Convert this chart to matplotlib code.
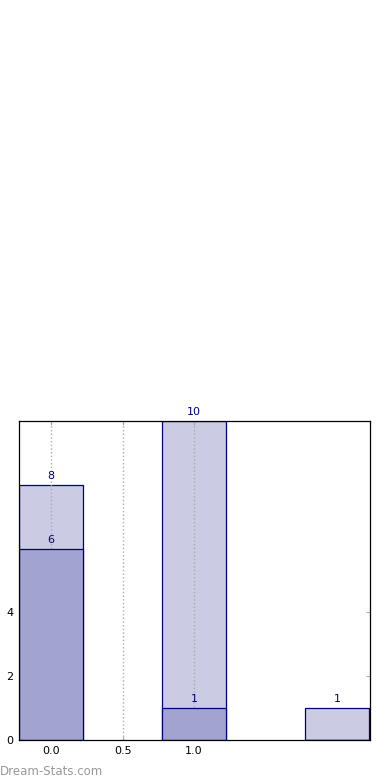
import matplotlib.pyplot as plt
import numpy as np

# positions and counts
xpos = [0, 1, 2]
total = [8, 10, 1]
part = [6, 1, 0]
yticks = [0, 2, 4]
xticks = [0.0, 0.5, 1.0]

light = '#cbcbe4'
dark = '#a3a3d1'
edge = '#000080'

fig = plt.figure(figsize=(3.9, 7.8), dpi=100)
ax = fig.add_axes([0.0487, 0.0513, 0.9, 0.409])

ax.bar(xpos, total, width=0.45, color=light, edgecolor=edge, linewidth=0.9, zorder=2)
ax.bar(xpos, part, width=0.45, color=dark, edgecolor=edge, linewidth=0.9, zorder=3)

for x, v in zip(xpos, total):
    ax.text(x, v + 0.12, str(v), ha='center', va='bottom', color=edge, fontsize=8, zorder=5)
for x, v in zip(xpos, part):
    if v > 0:
        ax.text(x, v + 0.12, str(v), ha='center', va='bottom', color=edge, fontsize=8, zorder=5)

ax.set_xlim(-0.225, 2.23)
ax.set_ylim(0, 10)
ax.set_xticks(xticks)
ax.set_xticklabels(['0.0', '0.5', '1.0'])
ax.set_yticks(yticks)
ax.tick_params(labelsize=8, length=3, color='#aaaaaa', direction='in', top=True, right=True, pad=4)
ax.grid(axis='x', linestyle=':', color='#aaaaaa', linewidth=1, zorder=4)
ax.set_axisbelow(False)
for s in ax.spines.values():
    s.set_linewidth(0.9)
    s.set_zorder(6)

fig.text(0.0, 0.003, 'Dream-Stats.com', color='#999999', fontsize=8.5, ha='left', va='bottom')

fig.savefig('out.png', dpi=100)
